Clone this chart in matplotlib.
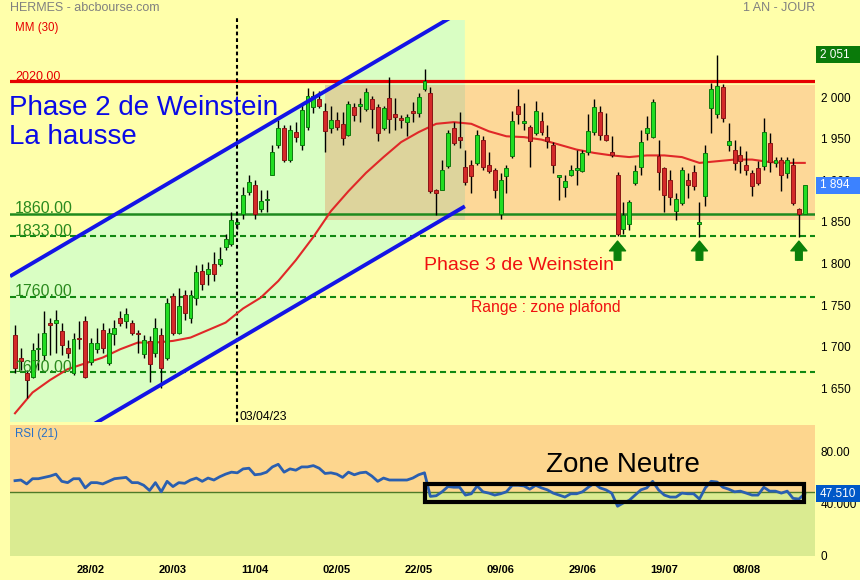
import matplotlib
matplotlib.use('Agg')
import matplotlib.pyplot as plt
from matplotlib.patches import Rectangle, Polygon
import matplotlib.transforms as mtrans

plt.rcParams['font.family'] = ['Liberation Sans', 'DejaVu Sans']

# ---------------- data ----------------
opens = [1714,1686,1668,1664,1697,1690,1728,1729,1719,1699,
         1668,1711,1731,1682,1697,1720,1680,1715,1735,1731,
         1728,1716,1691,1707,1692,1714,1686,1761,1717,1762,
         1735,1758,1791,1788,1800,1800,1820,1824,1848,1859,
         1886,1895,1866,1876,1907,1942,1963,1925,1958,1943,
         1964,1988,1998,1983,1963,1972,1968,1955,1988,1990,
         1986,1998,1988,1963,1999,1980,1974,1970,1983,1981,
         2010,2005,1888,1889,1917,1963,1952,1916,1919,1921,
         1949,1918,1912,1860,1905,1929,1989,1969,1964,1957,
         1971,1952,1943,1904,1892,1907,1913,1911,1934,1958,
         1982,1955,1934,1907,1842,1848,1897,1916,1957,1952,
         1929,1915,1901,1863,1873,1900,1910,1848,1881,1987,
         1980,2012,1943,1936,1930,1918,1909,1915,1917,1945,
         1921,1925,1909,1918,1865,1860]
highs = [1726,1698,1672,1704,1716,1743,1734,1744,1728,1708,
         1716,1731,1737,1711,1722,1728,1722,1732,1743,1746,
         1732,1720,1714,1713,1734,1722,1759,1765,1771,1768,
         1768,1798,1800,1802,1814,1820,1835,1862,1853,1892,
         1907,1900,1888,1888,1942,1972,1966,1966,1970,1993,
         2011,2008,2008,1993,1990,1982,1982,1996,1993,1999,
         2011,2001,1992,1989,2024,1999,1978,1980,1994,2005,
         2034,2012,1890,1924,1960,1970,1982,1936,1924,1960,
         1953,1934,1915,1909,1918,1983,2010,1993,1966,1995,
         1982,1966,1946,1905,1906,1918,1936,1936,1980,1998,
         1990,1981,1953,1910,1874,1876,1918,1960,1977,1998,
         1948,1916,1912,1885,1916,1909,1918,1874,1943,2017,
         2051,2016,1969,1949,1941,1935,1912,1923,1975,1957,
         1928,1928,1928,1927,1867,1894]
lows = [1669,1672,1638,1662,1672,1684,1690,1692,1690,1687,
        1666,1697,1662,1678,1692,1693,1678,1702,1725,1722,
        1714,1692,1686,1657,1688,1650,1684,1714,1715,1732,
        1729,1750,1768,1774,1779,1797,1816,1821,1842,1854,
        1882,1853,1862,1862,1906,1939,1922,1922,1946,1936,
        1960,1981,1987,1934,1957,1960,1943,1953,1971,1970,
        1983,1963,1947,1960,1957,1960,1963,1953,1970,1976,
        2008,1885,1858,1888,1915,1942,1939,1894,1885,1918,
        1912,1909,1879,1853,1885,1927,1968,1960,1916,1954,
        1955,1939,1909,1876,1880,1905,1895,1910,1930,1955,
        1948,1947,1928,1833,1836,1840,1894,1906,1948,1951,
        1889,1862,1870,1852,1870,1879,1888,1832,1869,1957,
        1975,1970,1935,1913,1909,1906,1881,1894,1912,1910,
        1916,1887,1903,1870,1832,1860]
closes = [1675,1683,1660,1696,1698,1716,1726,1732,1702,1692,
          1709,1709,1664,1704,1704,1699,1716,1723,1728,1739,
          1717,1715,1708,1679,1722,1674,1753,1717,1749,1741,
          1762,1790,1775,1794,1787,1806,1829,1852,1849,1882,
          1898,1860,1875,1877,1934,1963,1925,1960,1952,1984,
          2002,2002,1990,1959,1972,1964,1951,1992,1978,1992,
          2006,1986,1957,1987,1974,1976,1973,1976,1981,2000,
          2020,1887,1885,1912,1957,1945,1949,1898,1905,1954,
          1916,1911,1889,1901,1915,1971,1980,1970,1947,1983,
          1958,1947,1919,1904,1899,1913,1913,1933,1959,1988,
          1954,1949,1930,1836,1858,1874,1911,1946,1963,1994,
          1910,1883,1880,1877,1912,1895,1893,1850,1933,2010,
          2014,1975,1947,1921,1923,1913,1893,1897,1958,1922,
          1925,1907,1924,1873,1860,1894]

ma_idx = list(range(0, 136, 3))
ma30 = [1620,1645,1660,1673,1680,1687,1697,1705,1705,1707,
        1711,1720,1729,1746,1759,1779,1804,1832,1863,1887,
        1909,1928,1946,1958,1968,1970,1968,1959,1953,1952,
        1949,1943,1937,1933,1930,1928,1930,1930,1928,1921,
        1923,1925,1925,1922,1921,1921]

rsi21 = [57.5,58,55,59,59,60,61,62.5,57,56,
         59,59,52,56,56,55,57,59,59.5,60,
         56,56,54,50,56,49,57,53,56,55.5,
         58,59.5,57,59.5,58,60.5,62.5,64,63.5,66.5,
         67,62,62.5,64,68,70,64,66.5,65.5,68,
         68,69,67,63,63.5,62.5,60,64,62,63.5,
         64,61,57,59.5,58,58,58,58,59.5,62,
         63.5,45.5,
         46,49,53,52.5,52.5,46.5,47.5,53.5,49,
         48,46.5,47.5,49,54,54,53.5,51,54,52,
         50.5,48,46.5,45,47.5,47.5,49,52.5,55.5,52,
         50.5,48,38,40.5,42.5,46.5,50.5,52,57,50.5,
         46.5,45,45,48,47.5,47.5,43.5,
         52,57,56.5,52.5,51,49,49.5,48,46.5,46.5,52.5,49.5,49.5,48,49.5,44,43.5,47.5]

date_idx = [13, 27, 41, 55, 69, 83, 97, 111, 125]
date_labels = ['28/02', '20/03', '11/04', '02/05', '22/05', '09/06', '29/06', '19/07', '08/08']
price_ticks = [1650, 1700, 1750, 1800, 1850, 1900, 1950, 2000]
price_tick_labels = ['1 650', '1 700', '1 750', '1 800', '1 850', '1 900', '1 950', '2 000']
rsi_ticks = [0, 40, 80]
rsi_tick_labels = ['0', '40.000', '80.00']

resistance = 2020.0
support_solid = 1860.0
support_dashed = [1833.0, 1760.0, 1670.0]
event_idx = 38
event_label = '03/04/23'
year_high = 2051
last_price = 1894
last_rsi = 47.51
rsi_mid = 48.5

# channel (Phase 2) and range zone (Phase 3)
chan_x = [-0.85, 76.9]
chan_upper = [1784.7, 2105.8]
chan_lower = [1547.7, 1868.8]
zone_x0 = 53.0
zone_lo, zone_hi = 1852.0, 2015.0
arrow_idx = [103, 117, 134]
arrow_base, arrow_tip = 1804.0, 1827.0
neutral_box = (70.0, 134.9, 41.5, 54.8)

# ---------------- layout ----------------
W, H = 860, 580
fig = plt.figure(figsize=(8.6, 5.8), dpi=100)
BG = '#FFFFAA'
fig.patch.set_facecolor(BG)

def fx(px):
    return px / W

def fy(py):
    return 1 - py / H

L, R = 10, 815
MT, MB = 20, 422
RT, RB = 425, 556
XL = (L - 15) / 5.85
XR = (R - 15) / 5.85

ax = fig.add_axes([fx(L), fy(MB), fx(R) - fx(L), fy(MT) - fy(MB)])
rax = fig.add_axes([fx(L), fy(RB), fx(R) - fx(L), fy(RT) - fy(RB)])
for a in (ax, rax):
    a.set_facecolor(BG)
    for s in a.spines.values():
        s.set_visible(False)

YLO, YHI = 1609.5, 2092.8
ax.set_xlim(XL, XR)
ax.set_ylim(YLO, YHI)

GREEN_CH = '#D9FEC3'
ORANGE = '#FDD898'
TAN = '#DDD49C'

# channel fill
poly = Polygon([(chan_x[0], chan_upper[0]), (chan_x[1], chan_upper[1]),
                (chan_x[1], chan_lower[1]), (chan_x[0], chan_lower[0])],
               closed=True, facecolor=GREEN_CH, edgecolor='none', zorder=0.5)
ax.add_patch(poly)
# zone
ax.add_patch(Rectangle((zone_x0, zone_lo), chan_x[1] - zone_x0, zone_hi - zone_lo,
                       facecolor=TAN, edgecolor='none', zorder=0.6))
ax.add_patch(Rectangle((chan_x[1], zone_lo), XR + 1 - chan_x[1], zone_hi - zone_lo,
                       facecolor=ORANGE, edgecolor='none', zorder=0.6))

# levels
LVL_GREEN = '#1E8A1E'
ax.axhline(resistance, color='#E60000', lw=2.3, zorder=1.5)
ax.axhline(support_solid, color=LVL_GREEN, lw=1.8, zorder=1.5)
for lv in support_dashed:
    ax.axhline(lv, color='#118811', lw=1.5, ls=(0, (2.9, 1.9)), zorder=1.5)

# vertical event line
ax.axvline(event_idx, ymin=0, ymax=1.005, color='black', lw=1.5,
           ls=(0, (1.8, 1.4)), zorder=1.6, clip_on=False)

# MA
ax.plot(ma_idx, ma30, color='#E02828', lw=1.5, zorder=2)

# candles
n = len(closes)
xs = list(range(n))
ax.vlines(xs, lows, highs, color='black', lw=1.0, zorder=3)
bodies_b = [min(o, c) for o, c in zip(opens, closes)]
bodies_h = [max(abs(c - o), 2.0) for o, c in zip(opens, closes)]
fcols = ['#22DD22' if c >= o else '#D42A2A' for o, c in zip(opens, closes)]
ecols = ['#0E7A0E' if c >= o else '#8A1515' for o, c in zip(opens, closes)]
ax.bar(xs, bodies_h, bottom=bodies_b, width=0.68, color=fcols,
       edgecolor=ecols, linewidth=0.7, zorder=4)

# channel lines
ax.plot(chan_x, chan_upper, color='#1414E6', lw=2.8, zorder=5, solid_capstyle='butt')
ax.plot(chan_x, chan_lower, color='#1414E6', lw=2.8, zorder=5, solid_capstyle='butt')

# arrows
for i in arrow_idx:
    ax.annotate('', xy=(i, arrow_tip), xytext=(i, arrow_base),
                arrowprops=dict(arrowstyle='simple,head_length=7.0,head_width=11.5,tail_width=4.8',
                                mutation_scale=1, color='#0A800A', shrinkA=0, shrinkB=0),
                zorder=6)

# price axis on right
ax.set_xticks([])
ax.yaxis.tick_right()
ax.set_yticks(price_ticks)
ax.set_yticklabels(price_tick_labels)
ax.tick_params(axis='y', length=0, pad=4, labelsize=8.5, labelcolor='black')

# ---------------- RSI panel ----------------
rax.set_xlim(XL, XR)
rax.set_ylim(0, 100)
rax.axhspan(rsi_mid, 100, color='#FDD68E', zorder=0, lw=0)
rax.axhspan(0, rsi_mid, color='#DAEB91', zorder=0, lw=0)
rax.axhline(rsi_mid, color='#4E7A28', lw=1.0, zorder=1)
rax.plot(range(len(rsi21)), rsi21, color='#2A5FB0', lw=2.0, zorder=2)
bx0, bx1, by0, by1 = neutral_box
rax.add_patch(Rectangle((bx0, by0), bx1 - bx0, by1 - by0, fill=False,
                        edgecolor='black', lw=3.0, zorder=3))
rax.yaxis.tick_right()
rax.set_yticks(rsi_ticks)
rax.set_yticklabels(rsi_tick_labels)
rax.tick_params(axis='y', length=0, pad=4, labelsize=8.5)
rax.set_xticks(date_idx)
rax.set_xticklabels(date_labels, fontweight='bold')
rax.tick_params(axis='x', length=0, pad=6.5, labelsize=8)

# ---------------- value boxes ----------------
def value_box(axis, value, label, color, h_units):
    tr = mtrans.blended_transform_factory(fig.transFigure, axis.transData)
    fig.add_artist(Rectangle((fx(816), value - h_units / 2), fx(860) - fx(816), h_units,
                             transform=tr, facecolor=color, edgecolor='none', zorder=5))
    fig.text(fx(820), value, label, transform=tr, color='white', fontsize=8.5,
             va='center', ha='left', zorder=6)

value_box(ax, year_high, '2 051', '#0A7A0A', 20.4)
value_box(ax, last_price, '1 894', '#3C82FF', 20.0)
value_box(rax, last_rsi, '47.510', '#0058C8', 13.0)

# ---------------- texts ----------------
fig.text(fx(10), fy(8), 'HERMES - abcbourse.com', color='#808080', fontsize=9, va='center')
fig.text(fx(815), fy(8), '1 AN - JOUR', color='#808080', fontsize=9, va='center', ha='right')
fig.text(fx(15), fy(28), 'MM (30)', color='#E60000', fontsize=8.3, va='center')

fig.text(fx(15), fy(80), '2020.00', color='#E60000', fontsize=9, va='baseline')
for txt, base in [('1860.00', 213), ('1833.00', 236), ('1760.00', 296.5), ('1670.00', 371.5)]:
    fig.text(fx(15), fy(base), txt, color='#2A8A1E', fontsize=11.5, va='baseline')

fig.text(fx(9), fy(115), 'Phase 2 de Weinstein', color='#0A0AE6', fontsize=20, va='baseline')
fig.text(fx(9), fy(144), 'La hausse', color='#0A0AE6', fontsize=20, va='baseline')
fig.text(fx(424), fy(270), 'Phase 3 de Weinstein', color='#F01010', fontsize=14, va='baseline')
fig.text(fx(471), fy(312), 'Range : zone plafond', color='#F01010', fontsize=11.3, va='baseline')
fig.text(fx(240), fy(420), event_label, color='black', fontsize=8.8, va='baseline')
fig.text(fx(546), fy(471.5), 'Zone Neutre', color='black', fontsize=20, va='baseline')
fig.text(fx(15), fy(437), 'RSI (21)', color='#2870C8', fontsize=8.3, va='baseline')

fig.savefig('out.png', dpi=100, facecolor=BG)
